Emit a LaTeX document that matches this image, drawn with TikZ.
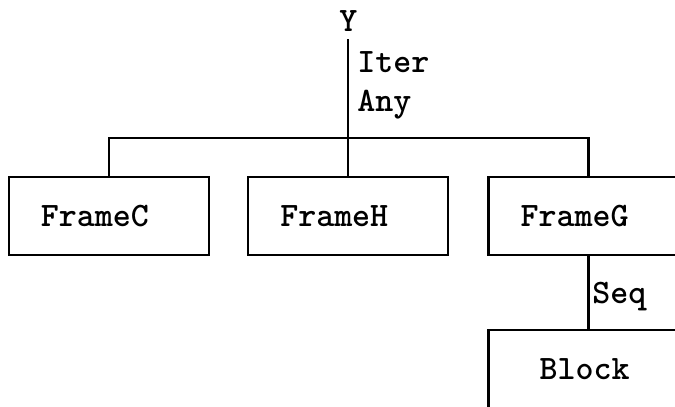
\documentclass[tikz,border=0pt]{standalone}
\usepackage{tikz}
\usetikzlibrary{shapes,arrows,positioning}

\begin{document}
\begin{tikzpicture}
 \tikzset{main node/.style={rectangle, draw, line width=1.3pt,
 		minimum height=1.56cm, text width=2.72cm, inner xsep=0.64cm,
 		align=left, font=\fontsize{19.5}{23}\selectfont\ttfamily\bfseries}, }
 \tikzset{tag node/.style={inner sep=0pt, anchor=base west,
 		font=\fontsize{19.5}{23}\selectfont\ttfamily\bfseries}, }
 \tikzset{linea/.style={line width=1.3pt},}
 \useasboundingbox (0,0) rectangle (13.5,-8.14);
 \node[main node] (1) at (2.18,-4.32) {FrameC};
 \node[main node] (2) [right =0.74cm of 1] {FrameH};
 \node[main node] (3) [right =0.76cm of 2] {FrameG};
 \node[main node, text width=1.96cm, inner xsep=1.02cm] (4) [below =1.46cm of 3] {Block};
 \node[tag node, anchor=base] (0) at ([yshift=2.88cm]2.north) {Y};
 \coordinate (j) at (2.north |- 0,-2.76);
 %% labels on the edges
 \node[tag node] (it) at (7.14,-1.46) {Iter};
 \node[tag node] (an) at (7.14,-2.22) {Any};
 \node[tag node] (sq) at (11.84,-6.06) {Seq};
 %%
 \draw[linea] ([yshift=-0.14cm]0.south) -- (2.north);
 \draw[linea] (1.north) |- (j) -| (3.north);
 \draw[linea] (3.south) -- (4.north);
\end{tikzpicture}
\end{document}
